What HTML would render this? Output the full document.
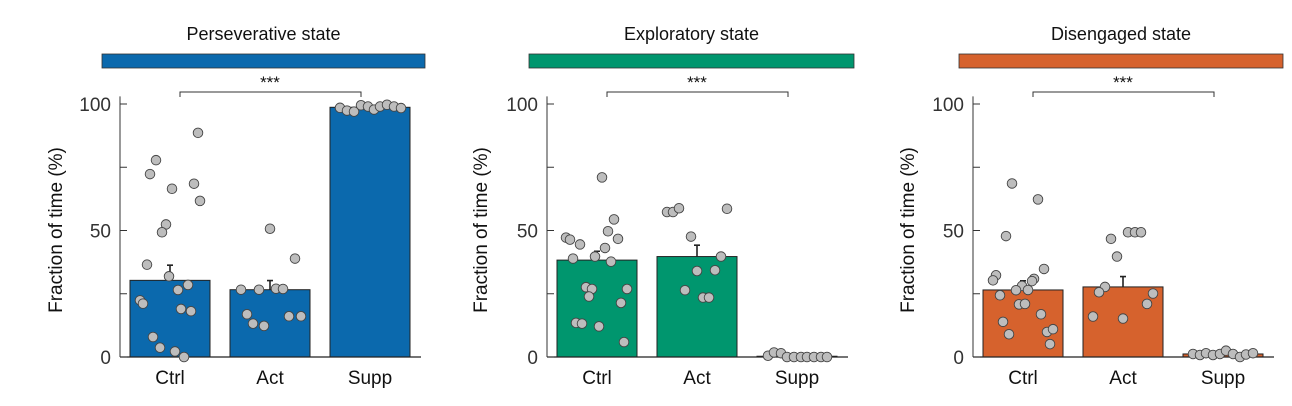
<!DOCTYPE html>
<html><head><meta charset="utf-8"><style>
html,body{margin:0;padding:0;background:#fff;}
svg{display:block;font-family:"Liberation Sans",Arial,sans-serif;}
</style></head><body>
<svg id="chart" width="1292" height="406" viewBox="0 0 1292 406"></svg>
<script>
const categories = ["Ctrl","Act","Supp"];
const panelTitles = ["Perseverative state","Exploratory state","Disengaged state"];
const yTicks = [0,25,50,75,100];
const yTickLabels = ["0","","50","","100"];
const meansP = [30.3,26.6,98.7];
const errP = [6.0,3.6,0.6];
const meansE = [38.3,39.7,0.3];
const errE = [3.5,4.5,0.3];
const meansD = [26.5,27.7,1.2];
const errD = [3.6,4.1,0.3];
const ptsPCtrl = [88.6,77.8,72.3,66.5,68.5,61.7,52.4,49.3,36.5,31.9,28.5,26.5,22.4,21.1,19,18.1,7.9,3.7,2.2,0];
const jitPCtrl = [28,-14,-20,2,24,30,-4,-8,-23,-1,18,8,-30,-27,11,21,-17,-10,5,14];
const ptsPAct = [50.7,38.9,26.6,26.6,27,26.9,16.9,13.2,12.3,16.1,16.1];
const jitPAct = [0,25,-29,-11,6,13,-23,-17,-6,19,31];
const ptsPSupp = [98.5,97.4,97,99.5,99,97.8,99,99.7,99,98.4];
const jitPSupp = [-30,-23,-16,-9,-2,4,10,17,24,31];
const ptsECtrl = [71,54.4,49.7,47.2,46.4,46.7,44.5,43.1,38.9,39.7,37.7,27.6,26.9,26.9,23.9,21.4,13.5,13.2,12.1,5.9];
const jitECtrl = [5,17,11,-31,-27,21,-17,8,-24,-2,14,-11,-5,30,-8,24,-21,-15,2,27];
const ptsEAct = [57.3,57.3,58.8,58.6,47.6,39.7,34,34.3,26.4,23.5,23.5];
const jitEAct = [-30,-24,-18,30,-6,24,0,18,-12,6,12];
const ptsESupp = [0.5,1.8,1.5,0,0,0,0,0,0,0];
const jitESupp = [-29,-23,-16,-10,-3,4,10,17,24,30];
const ptsDCtrl = [68.6,62.3,47.8,34.8,32.3,30.3,30.9,30,28.1,26.4,26.5,24.4,20.8,21,16.9,13.9,9,9.9,11,5.1];
const jitDCtrl = [-11,15,-17,21,-27,-30,11,9,-1,-7,5,-23,-4,2,18,-20,-14,24,30,27];
const ptsDAct = [46.7,49.3,49.3,49.3,39.7,27.7,25.6,25.1,21,16,15.2];
const jitDAct = [-12,5,12,18,-6,-18,-24,30,24,-30,0];
const ptsDSupp = [1.2,0.8,1.5,0.8,1.2,2.5,1.2,0,1,1.5];
const jitDSupp = [-30,-23,-17,-10,-3,3,10,17,23,30];

const panels = [
 {ax:120, color:"#0b69ad", means:meansP, err:errP, pts:[ptsPCtrl,ptsPAct,ptsPSupp], jit:[jitPCtrl,jitPAct,jitPSupp], head:[102,425], tx:55},
 {ax:547, color:"#00966e", means:meansE, err:errE, pts:[ptsECtrl,ptsEAct,ptsESupp], jit:[jitECtrl,jitEAct,jitESupp], head:[529,854], tx:480},
 {ax:973, color:"#d6622d", means:meansD, err:errD, pts:[ptsDCtrl,ptsDAct,ptsDSupp], jit:[jitDCtrl,jitDAct,jitDSupp], head:[959,1283], tx:907}
];
const svg = document.getElementById('chart');
const NS = "http://www.w3.org/2000/svg";
function mk(tag, attrs, parent){const e=document.createElementNS(NS,tag);for(const k in attrs)e.setAttribute(k,attrs[k]);(parent||svg).appendChild(e);return e;}
const y = v => 357 - v*2.53;
panels.forEach((p,pi)=>{
  const g = mk('g',{});
  
  
  const xc = i => p.ax + 50 + i*100;
  // header
  const hb = mk('rect',{x:p.head[0],y:54,width:p.head[1]-p.head[0],height:14,fill:p.color,stroke:"#333","stroke-width":0.8},g);
  
  
  const tt = mk('text',{x:(p.head[0]+p.head[1])/2,y:40,"text-anchor":"middle","font-size":18,fill:"#111"},g);
  tt.textContent = panelTitles[pi];
  
  
  // significance bracket
  const br = mk('path',{d:`M${xc(0)+10},97 V92 H${xc(2)-9} V97`,fill:"none",stroke:"#333","stroke-width":1},g);
  
  
  const st = mk('text',{x:(xc(0)+xc(2))/2,y:88,"text-anchor":"middle","font-size":17,fill:"#111"},g);
  st.textContent = "***";
  
  
  // bars
  p.means.forEach((m,i)=>{
    const b = mk('rect',{x:xc(i)-40,y:y(m),width:80,height:357-y(m),fill:p.color,stroke:"#222","stroke-width":1},g);
    
    
    const e = mk('path',{d:`M${xc(i)},${y(m)} V${y(m+p.err[i])} M${xc(i)-3},${y(m+p.err[i])} H${xc(i)+3}`,stroke:"#222","stroke-width":1.6,fill:"none"},g);
    
    
  });
  // axes
  const ya = mk('line',{x1:p.ax,y1:y(103),x2:p.ax,y2:357,stroke:"#333","stroke-width":1},g);
  
  
  const xa = mk('line',{x1:p.ax,y1:357,x2:p.ax+301,y2:357,stroke:"#222","stroke-width":1.2},g);
  
  
  yTicks.forEach((t,i)=>{
    const tk = mk('line',{x1:p.ax,y1:y(t),x2:p.ax+7,y2:y(t),stroke:"#333","stroke-width":1},g);
    
    
    if(yTickLabels[i]){
      const tl = mk('text',{x:p.ax-9,y:y(t)+7,"text-anchor":"end","font-size":19,fill:"#333"},g);
      tl.textContent = yTickLabels[i];
      
      
    }
  });
  const yt = mk('text',{x:0,y:0,transform:`translate(${p.tx+7},230) rotate(-90)`,"text-anchor":"middle","font-size":19,fill:"#111"},g);
  yt.textContent = "Fraction of time (%)";
  
  
  categories.forEach((c,i)=>{
    const xl = mk('text',{x:xc(i),y:384,"text-anchor":"middle","font-size":19,fill:"#111"},g);
    xl.textContent = c;
    
    
  });
  // points
  p.pts.forEach((arr,i)=>{
    arr.forEach((v,j)=>{
      const c = mk('circle',{cx:xc(i)+p.jit[i][j],cy:y(v),r:4.8,fill:"#bdbdbd",stroke:"#444","stroke-width":0.9},g);
      
      
    });
  });
});
</script>
</body></html>
